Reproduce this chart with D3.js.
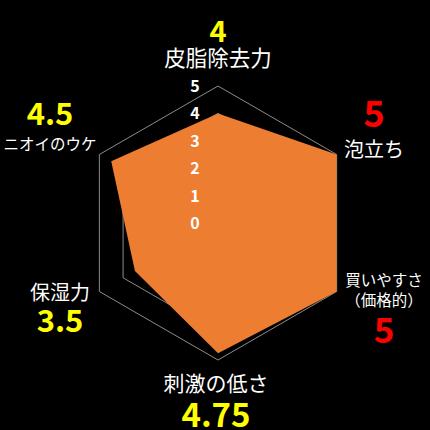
<!DOCTYPE html>
<meta charset="utf-8">
<style>
  body { margin: 0; background: #000; }
  svg { display: block; background: #000; font-family: "Noto Sans CJK JP", "Noto Sans", sans-serif; }
  .grid { fill: none; stroke: #8c8c8c; stroke-width: 1; }
  .area { fill: #ed7d31; }
  .tick { fill: #fff; font-weight: bold; font-size: 16px; }
  .name { fill: #fff; }
  .score { font-weight: bold; }
</style>
<svg width="430" height="430"></svg>
<script src="https://d3js.org/d3.v7.min.js"></script>
<script>
  // axes clockwise from the top
  var categories = ["皮脂除去力", "泡立ち", "買いやすさ", "刺激の低さ", "保湿力", "ニオイのウケ"];
  var subLabels = ["", "", "（価格的）", "", "", ""];
  var values = [4, 5, 5, 4.75, 3.5, 4.5];
  var scoreLabels = ["4", "5", "5", "4.75", "3.5", "4.5"];
  var ticks = [0, 1, 2, 3, 4, 5];

  var svg = d3.select("svg");
  var cx = 218, cy = 223;

  var r = d3.scaleLinear().domain([0, 5]).range([0, 137]);
  var angle = d3.scaleLinear().domain([0, categories.length]).range([0, 2 * Math.PI]);

  function pt(i, v) {
    var a = angle(i);
    return [cx + r(v) * Math.sin(a), cy - r(v) * Math.cos(a)];
  }

  // grid rings
  svg.append("g").selectAll("path")
    .data(ticks.slice(1))
    .enter().append("path")
    .attr("class", "grid")
    .attr("d", function (t) {
      return d3.line()(categories.map(function (c, i) { return pt(i, t); })) + "Z";
    });

  // data area
  svg.append("path")
    .attr("class", "area")
    .attr("d", d3.line()(values.map(function (v, i) { return pt(i, v); })) + "Z");

  // tick labels
  svg.append("g").selectAll("text")
    .data(ticks)
    .enter().append("text")
    .attr("class", "tick")
    .attr("x", cx - 23)
    .attr("y", function (t) { return cy - r(t) + 6; })
    .attr("text-anchor", "middle")
    .text(function (t) { return t; });

  // category names and scores, placed by hand around the hexagon
  var labelPos = [
    { x: 218, nameY: 66, nameSize: 21.5, scoreY: 42, scoreSize: 29, color: "#ffff00" },
    { x: 374, nameY: 157, nameSize: 20, scoreY: 127, scoreSize: 36, color: "#ff0000" },
    { x: 384, nameY: 286, nameSize: 15.5, scoreY: 343, scoreSize: 35, color: "#ff0000" },
    { x: 216, nameY: 391, nameSize: 21, scoreY: 427, scoreSize: 33, color: "#ffff00" },
    { x: 60, nameY: 300, nameSize: 20, scoreY: 332, scoreSize: 31, color: "#ffff00" },
    { x: 50, nameY: 150, nameSize: 15.5, scoreY: 125, scoreSize: 31, color: "#ffff00" }
  ];

  var lab = svg.append("g").selectAll("g")
    .data(categories)
    .enter().append("g");

  lab.append("text")
    .attr("class", "name")
    .attr("x", function (d, i) { return labelPos[i].x; })
    .attr("y", function (d, i) { return labelPos[i].nameY; })
    .attr("font-size", function (d, i) { return labelPos[i].nameSize; })
    .attr("text-anchor", "middle")
    .text(function (d) { return d; });

  lab.filter(function (d, i) { return subLabels[i] !== ""; })
    .append("text")
    .attr("class", "name")
    .attr("x", function (d) { var i = categories.indexOf(d); return labelPos[i].x; })
    .attr("y", function (d) { var i = categories.indexOf(d); return labelPos[i].nameY + 20; })
    .attr("font-size", 15.5)
    .attr("text-anchor", "middle")
    .text(function (d) { return subLabels[categories.indexOf(d)]; });

  lab.append("text")
    .attr("class", "score")
    .attr("x", function (d, i) { return labelPos[i].x; })
    .attr("y", function (d, i) { return labelPos[i].scoreY; })
    .attr("font-size", function (d, i) { return labelPos[i].scoreSize; })
    .attr("fill", function (d, i) { return labelPos[i].color; })
    .attr("text-anchor", "middle")
    .text(function (d, i) { return scoreLabels[i]; });
</script>
